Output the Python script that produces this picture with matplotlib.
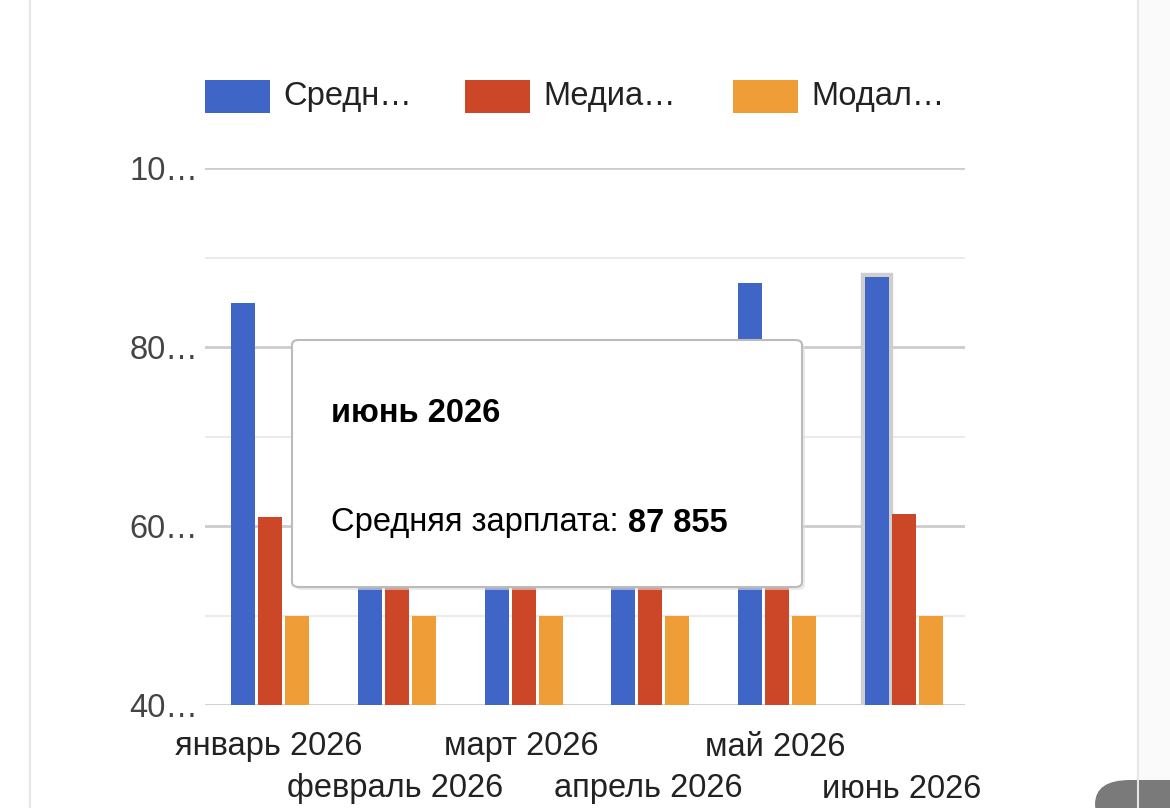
import numpy as np
import matplotlib.pyplot as plt
from matplotlib.patches import FancyBboxPatch, Rectangle

plt.rcParams['font.family'] = ['Liberation Sans', 'DejaVu Sans']

# data (Feb-May tops hidden behind the tooltip, estimated)
months = ["январь 2026", "февраль 2026", "март 2026", "апрель 2026", "май 2026", "июнь 2026"]
series_names = ["Средняя зарплата", "Медианная зарплата", "Модальная зарплата"]
legend_short = ["Средн…", "Медиа…", "Модал…"]
avg_salary = [84900, 77000, 78000, 79000, 87200, 87855]
median_salary = [61000, 60500, 60800, 61000, 61200, 61300]
mode_salary = [50000, 50000, 50000, 50000, 50000, 50000]
colors = ["#3f66c6", "#cc4628", "#ee9d37"]
yticks_major = [40000, 60000, 80000, 100000]
ytick_labels = ["40…", "60…", "80…", "10…"]
yticks_minor = [50000, 70000, 90000]

W, H = 1170, 808
fig = plt.figure(figsize=(W / 100, H / 100), dpi=100)
fig.patch.set_facecolor("white")

# page card edges + faint shading on the right
fig.add_artist(plt.Line2D([30 / W, 30 / W], [0, 1], color="#e6e6e6", lw=1.5))
fig.add_artist(plt.Line2D([1138 / W, 1138 / W], [0, 1], color="#e6e6e6", lw=1.5))
fig.add_artist(Rectangle((1139 / W, 0), 31 / W, 1, color="#fafafa", lw=0))
fig.add_artist(FancyBboxPatch((1095 / W, -20 / H), 120 / W, 48 / H,
                              boxstyle="round,pad=0,rounding_size=0.03",
                              color="#7a7a7a", lw=0))

ax = fig.add_axes([205 / W, (H - 705) / H, 760 / W, (705 - 168) / H])
ax.set_xlim(-0.5, 5.5)
ax.set_ylim(40000, 100000)
for s in ax.spines.values():
    s.set_visible(False)

for y in yticks_minor:
    ax.axhline(y, color="#ebebeb", lw=1.5, zorder=0)
for y in yticks_major:
    ax.axhline(y, color="#cccccc", lw=2, zorder=0)

x = np.arange(len(months)) + 0.016
bw = 0.19
offs = [-0.213, 0, 0.213]
data = [avg_salary, median_salary, mode_salary]
for i in range(3):
    ax.bar(x + offs[i], data[i], width=bw, color=colors[i], zorder=2)
# hover ring on the last blue bar
ax.bar(x[-1] + offs[0], avg_salary[-1], width=bw, color="none",
       edgecolor="#cfcfcf", lw=6, zorder=1)

ax.set_yticks(yticks_major)
ax.set_yticklabels(ytick_labels, fontsize=23.5, color="#444444")
ax.tick_params(axis="y", length=0, pad=5)
ax.set_xticks([])

# staggered category labels
for i, m in enumerate(months):
    ypix = 747 if i % 2 == 0 else 789
    ax.text(x[i] - 0.016, 1 - (ypix - 168) / (705 - 168), m,
            transform=ax.get_xaxis_transform(),
            ha="center", va="center", fontsize=23.5, color="#222222")

# legend
leg_x = [205, 465, 733]
for i in range(3):
    fig.add_artist(Rectangle((leg_x[i] / W, (H - 113) / H), 65 / W, 33 / H,
                             color=colors[i], lw=0))
    fig.text((leg_x[i] + 78) / W, (H - 97) / H, legend_short[i], fontsize=23.5,
             color="#222222", va="center", ha="left")

# tooltip
fig.add_artist(FancyBboxPatch((295 / W, (H - 590) / H), 510 / W, 247 / H,
                              boxstyle="round,pad=0,rounding_size=0.006",
                              facecolor="#dddddd", edgecolor="none", alpha=0.6, zorder=5))
fig.add_artist(FancyBboxPatch((292 / W, (H - 587) / H), 510 / W, 247 / H,
                              boxstyle="round,pad=0,rounding_size=0.006",
                              facecolor="white", edgecolor="#bbbbbb", lw=1.5, zorder=6))
fig.text(331 / W, (H - 413) / H, months[-1], fontsize=23.5, fontweight="bold",
         color="black", va="center", ha="left", zorder=7)
t = fig.text(331 / W, (H - 523) / H, series_names[0] + ": ", fontsize=23.5,
             color="black", va="center", ha="left", zorder=7)
fig.canvas.draw()
bb = t.get_window_extent()
fig.text(bb.x1 / W, (H - 523) / H, f"{avg_salary[-1]:,}".replace(",", " "),
         fontsize=23.5, fontweight="bold", color="black", va="center", ha="left", zorder=7)

fig.savefig("out.png", dpi=100)
